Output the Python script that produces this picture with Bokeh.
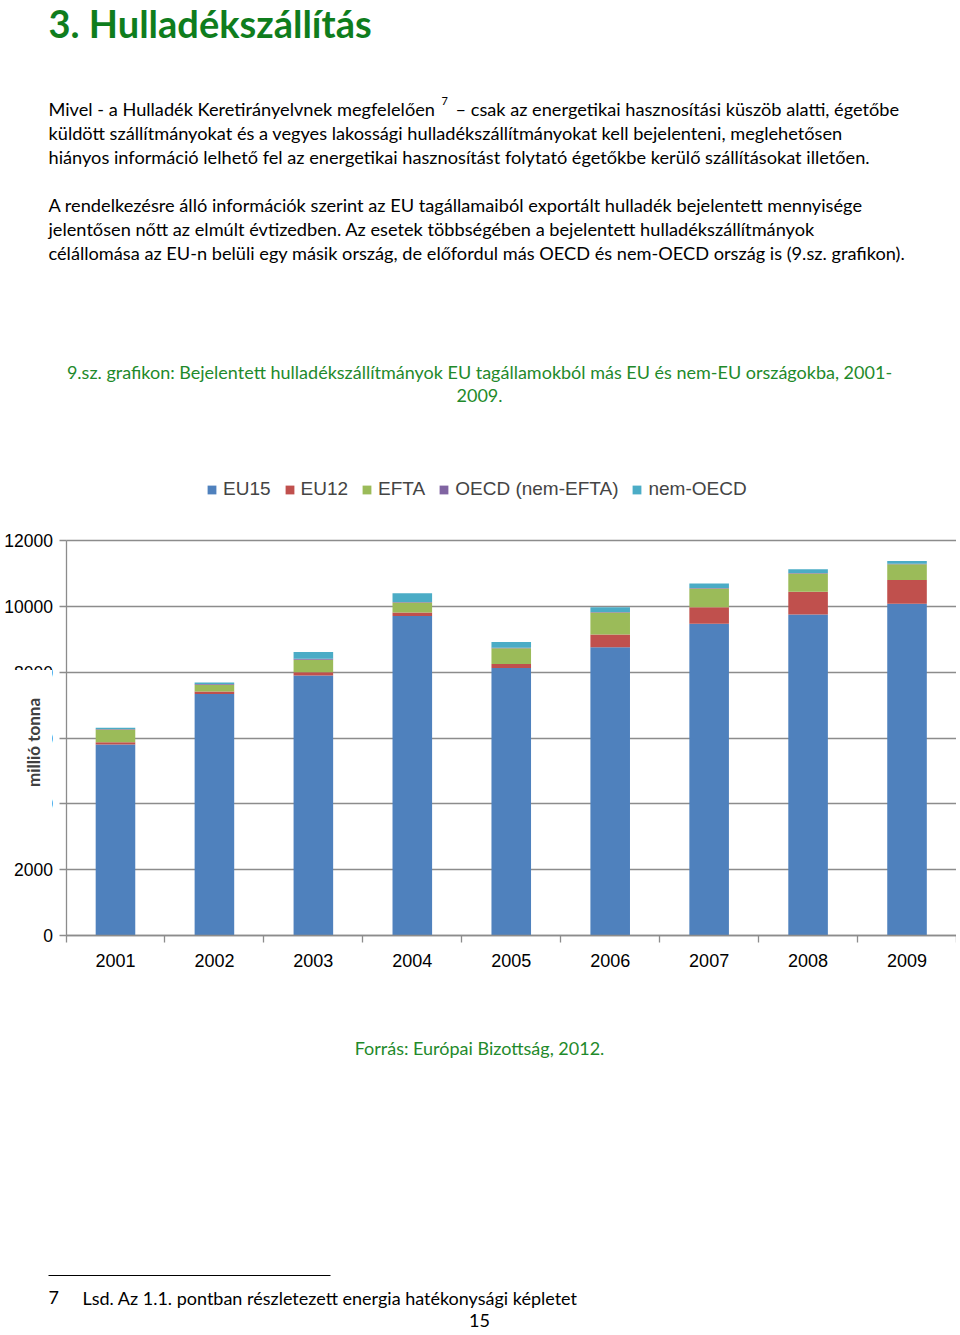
from bokeh.plotting import figure
from bokeh.models import (Range1d, FixedTicker, Legend, LegendItem, Label, ColumnDataSource,
                          LinearAxis, Grid)
from bokeh.core.properties import value
from bokeh.embed import file_html
from bokeh.resources import INLINE
import math

# ---------------- data ----------------
years = ["2001", "2002", "2003", "2004", "2005", "2006", "2007", "2008", "2009"]
eu15 = [5800, 7340, 7900, 9710, 8130, 8760, 9470, 9750, 10080]
eu12 = [70, 70, 100, 100, 120, 385, 505, 690, 720]
efta = [385, 210, 375, 305, 475, 670, 565, 555, 475]
oecd_nem_efta = [20, 20, 30, 15, 15, 15, 15, 15, 15]
nem_oecd = [35, 45, 210, 270, 180, 145, 140, 115, 85]
series_names = ["EU15", "EU12", "EFTA", "OECD (nem-EFTA)", "nem-OECD"]
series_colors = ["#4F81BD", "#C0504D", "#9BBB59", "#8064A2", "#4BACC6"]
y_ticks = [0, 2000, 4000, 6000, 8000, 10000, 12000]
y_max = 12000

heading = "3. Hulladékszállítás"
line1a = "Mivel - a Hulladék Keretirányelvnek megfelelően"
line1b = "– csak az energetikai hasznosítási küszöb alatti, égetőbe"
para_lines = [
    "küldött szállítmányokat és a vegyes lakossági hulladékszállítmányokat kell bejelenteni, meglehetősen",
    "hiányos információ lelhető fel az energetikai hasznosítást folytató égetőkbe kerülő szállításokat illetően.",
    "A rendelkezésre álló információk szerint az EU tagállamaiból exportált hulladék bejelentett mennyisége",
    "jelentősen nőtt az elmúlt évtizedben. Az esetek többségében a bejelentett hulladékszállítmányok",
    "célállomása az EU-n belüli egy másik ország, de előfordul más OECD és nem-OECD ország is (9.sz. grafikon).",
]
caption = ["9.sz. grafikon: Bejelentett hulladékszállítmányok EU tagállamokból más EU és nem-EU országokba, 2001-",
           "2009."]
source_txt = "Forrás: Európai Bizottság, 2012."
footnote = "Lsd. Az 1.1. pontban részletezett energia hatékonysági képletet"
page_no = "15"

# ---------------- page geometry (canvas pixels) ----------------
W, H = 956, 1334
FR_L, FR_R, FR_T, FR_B = 65.5, 956, 540, 935   # chart plotting area on the page
n = len(years)
ux = (FR_R - FR_L) / n          # pixels per category
uy = (FR_B - FR_T) / y_max      # pixels per unit

p = figure(width=W, height=H, x_range=Range1d(0, W), y_range=Range1d(H, 0),
           x_axis_type=None, y_axis_type=None, toolbar_location=None,
           output_backend="svg", min_border=0)
p.outline_line_color = None

# chart scales (library ranges mapped onto the chart area of the page)
p.extra_x_ranges = {"cx": Range1d(-FR_L / ux, (W - FR_L) / ux)}
p.extra_y_ranges = {"cy": Range1d((FR_B - H) / uy, FR_B / uy)}

gray = "#8c8c8c"
p.add_layout(Grid(dimension=1, ticker=FixedTicker(ticks=y_ticks), x_range_name="cx", y_range_name="cy",
                  cross_bounds=(0, n), grid_line_color=gray, grid_line_width=1.3))

xs = [i + 0.5 for i in range(n)]
src = ColumnDataSource(dict(x=xs, EU15=eu15, EU12=eu12, EFTA=efta, OECD=oecd_nem_efta, NOECD=nem_oecd))
keys = ["EU15", "EU12", "EFTA", "OECD", "NOECD"]
rs = p.vbar_stack(keys, x="x", width=0.4, color=series_colors, line_color=None, source=src,
                  x_range_name="cx", y_range_name="cy")

yax = LinearAxis(x_range_name="cx", y_range_name="cy", fixed_location=0, bounds=(0, y_max),
                 ticker=FixedTicker(ticks=y_ticks))
yax.axis_line_color = gray
yax.axis_line_width = 1.3
yax.major_tick_line_color = gray
yax.major_tick_line_width = 1.3
yax.major_tick_out = 7
yax.major_tick_in = 0
yax.minor_tick_line_color = None
yax.major_label_text_font = "Liberation Sans"
yax.major_label_text_font_size = "17.5px"
yax.major_label_text_color = "#000000"
yax.major_label_standoff = 6
p.add_layout(yax, "left")

xax = LinearAxis(x_range_name="cx", y_range_name="cy", fixed_location=0, bounds=(0, n),
                 ticker=FixedTicker(ticks=xs, minor_ticks=list(range(n + 1))))
xax.major_label_overrides = {x: y for x, y in zip(xs, years)}
xax.axis_line_color = gray
xax.axis_line_width = 1.3
xax.major_tick_line_color = None
xax.major_tick_out = 0
xax.major_tick_in = 0
xax.minor_tick_line_color = gray
xax.minor_tick_line_width = 1.3
xax.minor_tick_out = 7
xax.minor_tick_in = 0
xax.major_label_text_font = "Liberation Sans"
xax.major_label_text_font_size = "18px"
xax.major_label_text_color = "#000000"
xax.major_label_standoff = 11
p.add_layout(xax, "below")

legend = Legend(items=[LegendItem(label=nm, renderers=[r]) for nm, r in zip(series_names, rs)],
                orientation="horizontal", location=(206, H - 500),
                label_text_font="Liberation Sans", label_text_font_size="19px",
                glyph_width=11, glyph_height=11, label_standoff=6, spacing=13,
                padding=4, margin=0, border_line_color=None, background_fill_alpha=0)
p.add_layout(legend)

# y axis title on a white box (in the reference it hides part of the tick labels)
p.add_layout(Label(x=28, y=742, text="millió tonna", angle=math.pi / 2,
                   text_align="center", text_baseline="middle",
                   text_font="Lato", text_font_style="bold", text_font_size="17px",
                   text_color="#404040", background_fill_color="white",
                   padding=dict(left=28, right=28, top=18, bottom=8)))

BODY = value("Lato")
GREEN_H = "#0f7d1d"
GREEN_C = "#1f8a2b"


def add_text(xs_, ys_, txts, size="18.2px", color="#000000", align="left",
             style="normal", baseline="middle"):
    p.text(x=xs_, y=ys_, text=txts, text_font=BODY, text_font_size=size, text_color=color,
           text_align=align, text_font_style=style, text_baseline=baseline)


add_text([48], [22], [heading], size="38px", color=GREEN_H, style="bold")
add_text([48], [108], [line1a])
add_text([441], [100], ["7"], size="11px")
add_text([455], [108], [line1b])
add_text([48] * len(para_lines), [132, 156, 204, 228, 252], para_lines)
add_text([479, 479], [371, 395], caption, size="18px", color=GREEN_C, align="center")
add_text([479], [1047], [source_txt], size="18px", color=GREEN_C, align="center")
p.segment(x0=[48], y0=[1275], x1=[330], y1=[1275], line_color="#000000", line_width=1)
add_text([48, 82], [1297, 1297], ["7", footnote], size="18px")
add_text([479], [1320], [page_no], size="18px", align="center")

open("out.html", "w").write(file_html(p, INLINE))
